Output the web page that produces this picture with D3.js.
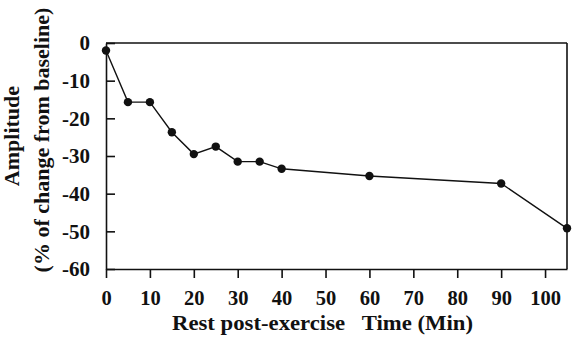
<!DOCTYPE html>
<html>
<head>
<meta charset="utf-8">
<script src="https://cdn.jsdelivr.net/npm/d3@7"></script>
<style>
  body { margin: 0; background: #fff; }
  text { font-family: "Liberation Serif", "Times New Roman", serif; font-weight: bold; fill: #111; }
</style>
</head>
<body>
<div id="chart"></div>
<script>
// minutes of rest after exercise
const times = [0, 5, 10, 15, 20, 25, 30, 35, 40, 60, 90, 105];
// amplitude, % change from baseline
const amplitude = [-2, -15.7, -15.7, -23.7, -29.5, -27.5, -31.5, -31.5, -33.4, -35.3, -37.3, -49.2];
const xTicks = [0, 10, 20, 30, 40, 50, 60, 70, 80, 90, 100];
const yTicks = [0, -10, -20, -30, -40, -50, -60];

const width = 579, height = 341;
const margin = { top: 43, right: 12, bottom: 72, left: 106 };
const w = width - margin.left - margin.right;
const h = height - margin.top - margin.bottom;

const svg = d3.select("#chart").append("svg")
    .attr("width", width)
    .attr("height", height);

const g = svg.append("g")
    .attr("transform", `translate(${margin.left},${margin.top})`);

const x = d3.scaleLinear().domain([0, 105]).range([0, w]);
const y = d3.scaleLinear().domain([-60, 0]).range([h, 0]);

// frame: top and right lines
g.append("line").attr("x1", 0).attr("x2", w).attr("y1", 0).attr("y2", 0)
    .attr("stroke", "#111").attr("stroke-width", 1.6);
g.append("line").attr("x1", w).attr("x2", w).attr("y1", 0).attr("y2", h)
    .attr("stroke", "#111").attr("stroke-width", 1.6);

// plain hyphen instead of d3's unicode minus
const fmt = d => String(d);

const xAxis = g.append("g")
    .attr("transform", `translate(0,${h})`)
    .call(d3.axisBottom(x).tickValues(xTicks).tickFormat(fmt).tickSize(9).tickSizeOuter(0).tickPadding(12));
xAxis.selectAll("text").style("font-size", "20.5px");

const yAxis = g.append("g")
    .call(d3.axisLeft(y).tickValues(yTicks).tickFormat(fmt).tickSize(-9).tickSizeOuter(0).tickPadding(16));
yAxis.selectAll("text").style("font-size", "21px");

[xAxis, yAxis].forEach(a => {
    a.select(".domain").attr("stroke", "#111").attr("stroke-width", 1.6);
    a.selectAll(".tick line").attr("stroke", "#111").attr("stroke-width", 1.6);
    a.selectAll("text").attr("fill", "#111").style("font-family", "Liberation Serif").style("font-weight", "bold");
});

const pts = times.map((t, i) => ({ t, v: amplitude[i] }));

g.append("path")
    .datum(pts)
    .attr("fill", "none")
    .attr("stroke", "#111")
    .attr("stroke-width", 1.4)
    .attr("d", d3.line().x(d => x(d.t)).y(d => y(d.v)));

g.selectAll("circle")
    .data(pts).enter()
    .append("circle")
    .attr("cx", d => x(d.t))
    .attr("cy", d => y(d.v))
    .attr("r", 4.2)
    .attr("fill", "#111");

// axis titles
svg.append("text")
    .attr("x", 172)
    .attr("y", 330)
    .attr("xml:space", "preserve")
    .attr("textLength", 301)
    .attr("lengthAdjust", "spacingAndGlyphs")
    .style("font-size", "20px")
    .style("white-space", "pre")
    .text("Rest post-exercise   Time (Min)");

svg.append("text")
    .attr("transform", "translate(19,136) rotate(-90)")
    .attr("text-anchor", "middle")
    .style("font-size", "22px")
    .text("Amplitude");

svg.append("text")
    .attr("transform", "translate(49,140) rotate(-90)")
    .attr("text-anchor", "middle")
    .style("font-size", "22px")
    .text("(% of change from baseline)");
</script>
</body>
</html>
